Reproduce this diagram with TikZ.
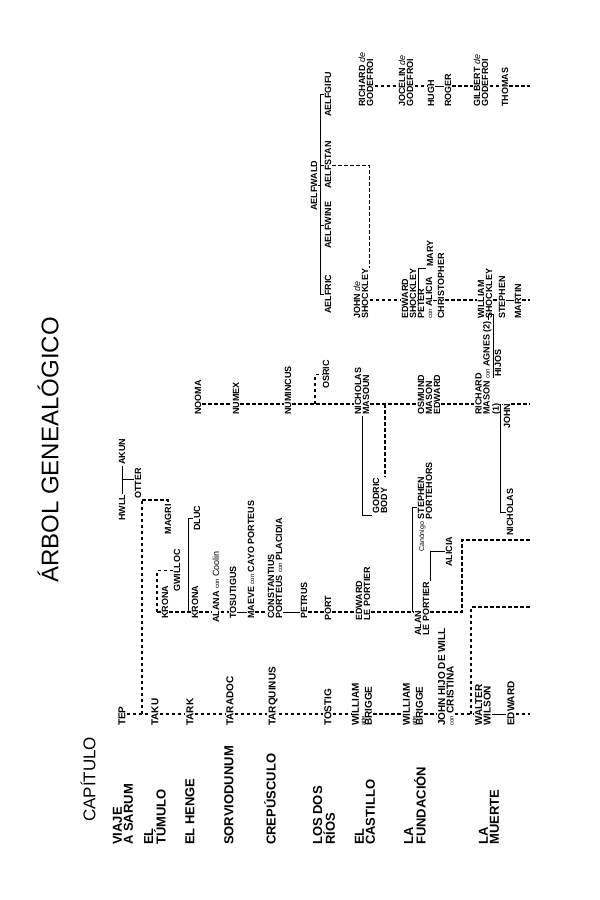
\documentclass[tikz,border=0pt]{standalone}
\usepackage{fontspec}
\setmainfont{Liberation Sans}
\usepackage{tikz}
\usetikzlibrary{calc}
\usetikzlibrary{positioning}
\tikzset{
    nm/.style   = {rotate=90, anchor=west, align=left, inner sep=1pt, font=\bfseries\fontsize{9}{8}\selectfont},
    nmb/.style  = {nm, font=\bfseries\fontsize{10}{8.5}\selectfont},
    chap/.style = {rotate=90, anchor=west, align=left, inner sep=0pt, font=\bfseries\fontsize{13}{11}\selectfont},
    dl/.style   = {line width=1.1pt, dash pattern=on 3.5pt off 2.5pt},
    sl/.style   = {line width=0.9pt}
}
\newcommand{\cn}{{\mdseries\fontsize{6}{6}\selectfont con}}
\newcommand{\atte}{{\mdseries\fontsize{6}{6}\selectfont atte}}
\newcommand{\Gde}{{\mdseries\itshape de}}

\begin{document}
\begin{tikzpicture}[x=1pt, y=-1pt]
    \useasboundingbox (0,0) rectangle (600,900);

    \node[rotate=90, font=\fontsize{24}{24}\selectfont]                       (title)    at (48,450)  {ÁRBOL GENEALÓGICO};
    \node[rotate=90, anchor=west, inner sep=0pt, font=\fontsize{17}{17}\selectfont] (capitulo) at (88,822) {CAPÍTULO};
    \node[chap] (sarum)      at (123,845) {VIAJE\\A SARUM};
    \node[chap] (tumulo)     at (155,845) {EL\\TÚMULO};
    \node[chap] (henge)      at (190,845) {EL HENGE};
    \node[chap] (sorvio)     at (229,845) {SORVIODUNUM};
    \node[chap] (crepusculo) at (270,845) {CREPÚSCULO};
    \node[chap] (rios)       at (324,845) {LOS DOS\\RÍOS};
    \node[chap] (castillo)   at (365,845) {EL\\CASTILLO};
    \node[chap] (fundacion)  at (415,845) {LA\\FUNDACIÓN};
    \node[chap] (muerte)     at (489,845) {LA\\MUERTE};

    \coordinate (L1) at (0,714);
    \coordinate (L2) at (0,612);
    \coordinate (L3) at (0,404);
    \coordinate (L4) at (0,300);
    \coordinate (L5) at (0,86);

    \node[nmb] (tep)       at (122,727) {TEP};
    \node[nmb] (taku)      at (155,727) {TAKU};
    \node[nmb] (tark)      at (190,727) {TARK};
    \node[nmb] (taradoc)   at (230,727) {TARADOC};
    \node[nmb] (tarquinus) at (273,727) {TARQUINUS};
    \node[nmb] (tostig)    at (328,727) {TOSTIG};
    \node[nmb] (williamA)  at (362,727) {WILLIAM\\[-2pt]\atte\\[-2pt]BRIGGE};
    \node[nmb] (williamB)  at (413,727) {WILLIAM\\[-2pt]\atte\\[-2pt]BRIGGE};
    \node[nmb] (johnhijo)  at (446,727) {JOHN HIJO DE WILL\\\cn{} CRISTINA};
    \node[nmb] (walter)    at (483,727) {WALTER\\WILSON};
    \node[nmb] (edwardM)   at (511,727) {EDWARD};
    \coordinate (e1) at (530,714);
    \coordinate (b1) at (142,714);
    \coordinate (b2) at (471,714);
    \coordinate (b2out) at (530,607);

    \node[nm]              (hwll)  at (122,522) {HWLL};
    \node[nm]              (akun)  at (122,466) {AKUN};
    \node[nm]              (otter) at (138,500) {OTTER};
    \node[nm, anchor=east] (magri) at (168,503) {MAGRI};

    \node[nm] (kronaA)      at (165,620) {KRONA};
    \node[nm] (gwilloc)     at (177,593) {GWILLOC};
    \node[nm] (kronaB)      at (195,620) {KRONA};
    \node[nm] (dluc)        at (197,532) {DLUC};
    \node[nm] (alana)       at (216,624) {ALANA \cn{} {\mdseries Coolin}};
    \node[nm] (tosutigus)   at (233,620) {TOSUTIGUS};
    \node[nm] (maeve)       at (251,620) {MAEVE \cn{} CAYO PORTEUS};
    \node[nm] (constantius) at (275,620) {CONSTANTIUS\\PORTEUS \cn{} PLACIDIA};
    \node[nm] (petrus)      at (304,620) {PETRUS};
    \node[nm] (port)        at (328,622) {PORT};
    \node[nm] (edwardLP)    at (363,622) {EDWARD\\LE PORTIER};
    \node[nm] (alan)        at (422,637) {ALAN\\LE PORTIER};
    \node[nm] (canon)       at (425,553) {{\mdseries\fontsize{7}{7}\selectfont Canónigo} STEPHEN\\\hphantom{{\mdseries\fontsize{7}{7}\selectfont Canónigo} }PORTEHORS};
    \node[nm] (alicia)      at (449,568) {ALICIA};
    \coordinate (k0) at (157,612);
    \coordinate (k1) at (188,612);
    \coordinate (a2) at (412,612);
    \coordinate (l2up) at (462,540);
    \coordinate (l2out) at (530,540);

    \node[nm] (nooma)     at (198,416) {NOOMA};
    \node[nm] (numex)     at (236,416) {NUMEX};
    \node[nm] (numincus)  at (288,416) {NUMINCUS};
    \node[nm] (osric)     at (326,390) {OSRIC};
    \node[nm] (nicholasM) at (362,416) {NICHOLAS\\MASOUN};
    \node[nm] (godric)    at (380,515) {GODRIC\\BODY};
    \node[nm] (osmund)    at (429,416) {OSMUND\\MASON\\EDWARD};
    \node[nm] (richard)   at (488,416) {RICHARD\\MASON \cn{} AGNES (2)\\(1)};
    \node[nm] (hijos)     at (498,378) {HIJOS};
    \node[nm] (johnR)     at (507,430) {JOHN};
    \node[nm] (nicholasR) at (510,537) {NICHOLAS};
    \coordinate (o3) at (315,404);
    \coordinate (b3) at (385,404);
    \coordinate (r3) at (500,404);
    \coordinate (e3) at (530,404);

    \node[nm] (aelfwald)    at (314,212) {AELFWALD};
    \node[nm] (aelfric)     at (328,315) {AELFRIC};
    \node[nm] (aelfwine)    at (328,250) {AELFWINE};
    \node[nm] (aelfstan)    at (328,190) {AELFSTAN};
    \node[nm] (aelfgifu)    at (328,118) {AELFGIFU};
    \node[nm] (johnS)       at (361,320) {JOHN \Gde\\SHOCKLEY};
    \node[nm] (edwardS)     at (409,320) {EDWARD\\SHOCKLEY};
    \node[nm] (peter)       at (425,320) {PETER\\\cn{} ALICIA};
    \node[nm] (christopher) at (441,320) {CHRISTOPHER};
    \node[nm] (mary)        at (430,268) {MARY};
    \node[nm] (williamS)    at (485,320) {WILLIAM\\SHOCKLEY};
    \node[nm] (stephen)     at (502,320) {STEPHEN};
    \node[nm] (martin)      at (518,320) {MARTIN};
    \coordinate (barx) at (320,0);
    \coordinate (m4) at (418,300);
    \coordinate (e4) at (530,300);

    \node[nm] (richardG) at (366,108) {RICHARD \Gde\\GODEFROI};
    \node[nm] (jocelin)  at (406,108) {JOCELIN \Gde\\GODEFROI};
    \node[nm] (hugh)     at (431,108) {HUGH};
    \node[nm] (roger)    at (448,108) {ROGER};
    \node[nm] (gilbert)  at (481,108) {GILBERT \Gde\\GODEFROI};
    \node[nm] (thomas)   at (505,108) {THOMAS};
    \coordinate (e5) at (530,86);

    \foreach \a/\b in {tep/taku, taku/tark, tark/taradoc, taradoc/tarquinus, tarquinus/tostig,
                       tostig/williamA, williamA/williamB, williamB/johnhijo, johnhijo/walter}
        \draw[dl] (\a.south |- L1) -- (\b.north |- L1);
    \draw[sl] (walter.south |- L1) -- (edwardM.north |- L1);
    \draw[dl] (edwardM.south |- L1) -- (e1);
    \draw[dl] (b1) -- (b1 |- otter.south west);
    \draw[dl] (b2) |- (b2out);

    \draw[sl] (hwll.east) -- (akun.west) coordinate[pos=0.5] (hw);
    \draw[sl] (hw) -- (hw -| otter.north);
    \draw[dl] (otter.south west) -| (magri.east);

    \draw[dl] (k0) -- (kronaA.north |- L2);
    \draw[dl] (k0) |- (gwilloc.north);
    \foreach \a/\b in {kronaA/kronaB, kronaB/alana, alana/tosutigus, maeve/constantius,
                       petrus/port, port/edwardLP, edwardLP/alan}
        \draw[dl] (\a.south |- L2) -- (\b.north |- L2);
    \foreach \a/\b in {tosutigus/maeve, constantius/petrus}
        \draw[sl] (\a.south |- L2) -- (\b.north |- L2);
    \draw[dl] (alan.south |- L2) -| (l2up) -- (l2out);
    \draw[sl] (k1) |- (dluc.north);
    \draw[sl] (a2) |- (canon.north);
    \draw[sl] (alan.south east) |- (alicia.north);

    \foreach \a/\b in {nooma/numex, numex/numincus, numincus/nicholasM, nicholasM/osmund, osmund/richard}
        \draw[dl] (\a.south |- L3) -- (\b.north |- L3);
    \draw[sl] (richard.south |- L3) -- (johnR.north |- L3);
    \draw[dl] (johnR.south |- L3) -- (e3);
    \draw[dl] (o3) |- (osric.north);
    \draw[dl] (b3) -- (b3 |- godric.east);
    \draw[sl] (nicholasM.west) |- (godric.north west);
    \draw[sl] (r3) |- (nicholasR.north);
    \draw[sl] (richard.east) -- ++(0,-5) -| (hijos.north west);

    \draw[sl] (aelfric.north) -- (aelfric.north -| barx) |- (aelfgifu.north);
    \foreach \c in {aelfwine, aelfstan}
        \draw[sl] (\c.north) -- (\c.north -| barx);
    \draw[sl] (aelfwald.south) -- (aelfwald.south -| barx);
    \draw[dl] (aelfstan.south) -| (johnS.south east);

    \foreach \a/\b in {johnS/edwardS, christopher/williamS, williamS/stephen}
        \draw[dl] (\a.south |- L4) -- (\b.north |- L4);
    \foreach \a/\b in {edwardS/peter, peter/christopher, stephen/martin}
        \draw[sl] (\a.south |- L4) -- (\b.north |- L4);
    \draw[dl] (martin.south |- L4) -- (e4);
    \draw[sl] (m4) |- (mary.north west);

    \foreach \a/\b in {richardG/jocelin, jocelin/hugh, roger/gilbert, gilbert/thomas}
        \draw[dl] (\a.south |- L5) -- (\b.north |- L5);
    \draw[sl] (hugh.south |- L5) -- (roger.north |- L5);
    \draw[dl] (thomas.south |- L5) -- (e5);
\end{tikzpicture}
\end{document}
